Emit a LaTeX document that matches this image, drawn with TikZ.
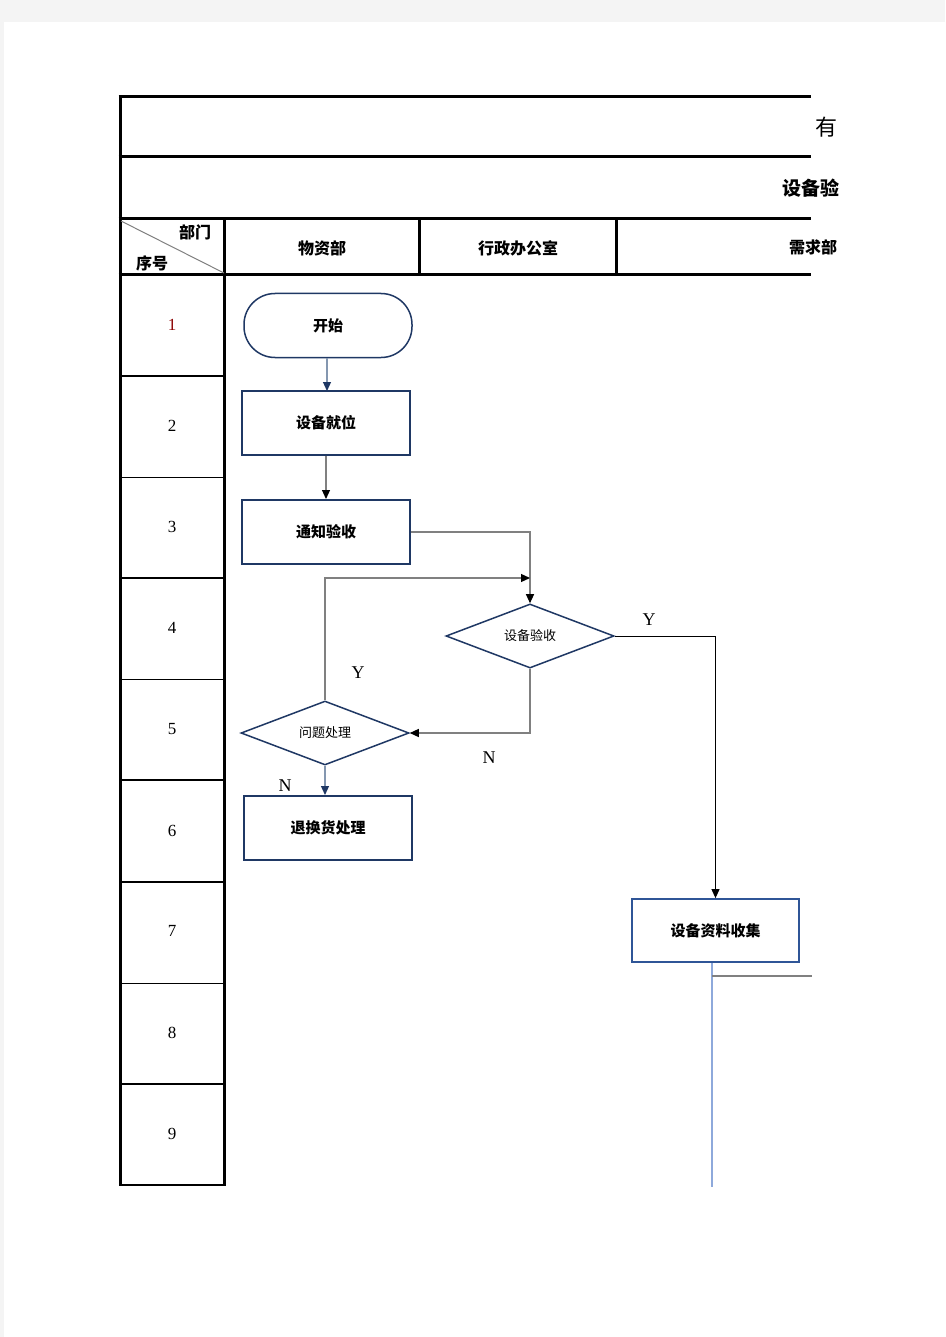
\documentclass[tikz,border=0pt]{standalone}
\usepackage{fontspec}
\setmainfont{Liberation Serif}
\newfontfamily\cjk{Noto Sans CJK SC}
\usetikzlibrary{arrows.meta,shapes.geometric,calc}
\definecolor{navy}{HTML}{1F3864}
\definecolor{lgray}{HTML}{808080}
\definecolor{lblue}{HTML}{8EA9DB}
\definecolor{sblue}{HTML}{8497B0}
\definecolor{mblue}{HTML}{2F5597}
\definecolor{pagebg}{HTML}{F4F4F4}
\definecolor{dred}{HTML}{8B0000}
\tikzset{
  thickrule/.style={line width=3pt,black},
  midrule/.style={line width=2pt,black},
  thinrule/.style={line width=1pt,black},
  hdr/.style={font=\cjk\bfseries\fontsize{16}{16}\selectfont,inner sep=0pt},
  num/.style={font=\fontsize{17}{17}\selectfont,inner sep=0pt},
  yn/.style={font=\fontsize{18}{18}\selectfont,inner sep=0pt},
  procbox/.style={draw=navy,line width=2pt,fill=white,minimum width=168pt,minimum height=64pt,inner sep=0pt,font=\cjk\bfseries\fontsize{15}{15}\selectfont},
  termbox/.style={procbox,rounded corners=31pt,line width=1.5pt},
  decbox/.style={diamond,draw=navy,line width=1.5pt,fill=white,minimum width=168pt,minimum height=64pt,inner sep=0pt,font=\cjk\fontsize{13}{13}\selectfont},
  blacktip/.style={-{Triangle[length=9pt,width=8pt,color=black]}},
  navytip/.style={-{Triangle[length=9pt,width=8pt,color=navy]}},
  conn/.style={draw=lgray,line width=1.2pt,blacktip},
}
\begin{document}
\begin{tikzpicture}[x=1pt,y=-1pt]
\useasboundingbox (0,0) rectangle (945,1337);
\fill[pagebg] (0,0) rectangle (945,1337);
\fill[white] (4,22) rectangle (945,1337);

% table frame
\draw[thickrule] (118.5,97) -- (811,97);
\draw[thickrule] (118.5,157) -- (811,157);
\draw[thickrule] (118.5,219) -- (811,219);
\draw[thickrule] (118.5,275) -- (811,275);
\draw[thickrule] (120,95.5) -- (120,1186);
\draw[thickrule] (224,219) -- (224,1186);
\draw[thickrule] (419,219) -- (419,275);
\draw[thickrule] (616,219) -- (616,275);
\draw[lgray,line width=1pt] (121,221) -- (224,273);
\draw[midrule] (120,376) -- (224,376);
\draw[thinrule] (120,477) -- (224,477);
\draw[midrule] (120,578) -- (224,578);
\draw[thinrule] (120,679) -- (224,679);
\draw[midrule] (120,780) -- (224,780);
\draw[midrule] (120,882) -- (224,882);
\draw[thinrule] (120,983) -- (224,983);
\draw[midrule] (120,1084) -- (224,1084);
\draw[line width=1.3pt,black] (120,1185) -- (225,1185);

% header texts
\node[font=\cjk\fontsize{22}{22}\selectfont,inner sep=0pt] (t1) at (826,127) {有};
\node[font=\cjk\bfseries\fontsize{19}{19}\selectfont,inner sep=0pt] (t2) at (811,188) {设备验};
\node[hdr] (hb) at (195,232) {部门};
\node[hdr] (hx) at (152,263) {序号};
\node[hdr] (h1) at (322,248) {物资部};
\node[hdr] (h2) at (518,248) {行政办公室};
\node[hdr] (h3) at (813,247) {需求部};

% row numbers
\node[num,text=dred] (r1) at (172,325) {1};
\node[num] (r2) at (172,426) {2};
\node[num] (r3) at (172,527) {3};
\node[num] (r4) at (172,628) {4};
\node[num] (r5) at (172,729) {5};
\node[num] (r6) at (172,831) {6};
\node[num] (r7) at (172,931) {7};
\node[num] (r8) at (172,1033) {8};
\node[num] (r9) at (172,1134) {9};

% flow nodes
\node[termbox] (start) at (328,325.5) {开始};
\node[procbox,line width=1.6pt] (s1) at (326,423) {设备就位};
\node[procbox] (s2) at (326,532) {通知验收};
\node[decbox] (d1) at (530,636) {设备验收};
\node[decbox] (d2) at (325,733) {问题处理};
\node[procbox] (s3) at (328,828) {退换货处理};
\node[procbox,draw=mblue,line width=1.8pt,minimum width=167pt,minimum height=63pt] (s4) at (715.5,930.5) {设备资料收集};

% connectors
\draw[draw=sblue,line width=1.2pt,navytip] (start.south -| 327,0) -- (327,391);
\coordinate (m1) at (530,578);
\draw[conn] (s1.south) -- (s2.north);
\draw[conn] (s2.east) -| (d1.north);
\draw[conn] (d2.north) |- (m1);
\draw[conn] (d1.south) |- (d2.east);
\draw[line width=1pt,black,blacktip] (d1.east) -| (s4.north);
\draw[draw=sblue,line width=1.2pt,navytip] (d2.south) -- (d2.south |- s3.north);
\coordinate (e0) at (712,963);
\coordinate (e1) at (712,1187);
\coordinate (h0) at (712,976);
\coordinate (h9) at (812,976);
\draw[lblue,line width=1.4pt] (e0) -- (e1);
\draw[lgray,line width=1.4pt] (h0) -- (h9);

% labels
\node[yn] (y1) at (358,673) {Y};
\node[yn] (n1) at (489,758) {N};
\node[yn] (y2) at (649,620) {Y};
\node[yn] (n2) at (285,786) {N};
\end{tikzpicture}
\end{document}
